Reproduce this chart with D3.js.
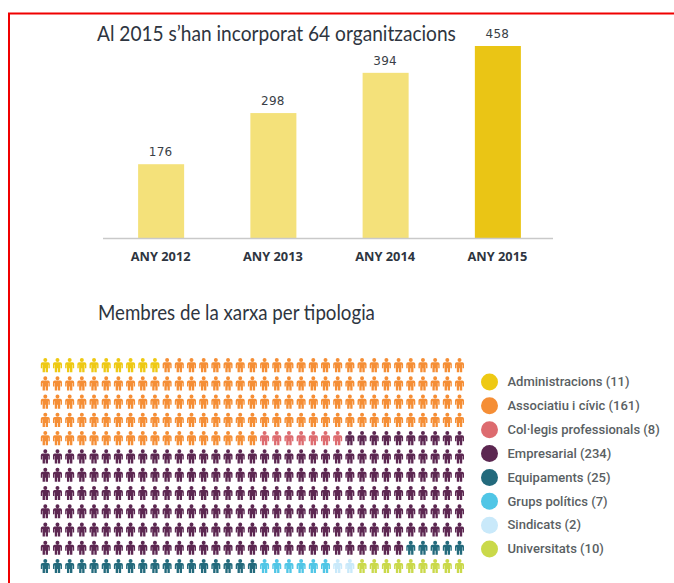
<!DOCTYPE html>
<html>
<head>
<meta charset="utf-8">
<script src="https://cdn.jsdelivr.net/npm/d3@7"></script>
<style>
body { margin: 0; background: #fff; }
svg { display: block; }
.title { font-family: Lato, sans-serif; font-size: 21px; fill: #2e3540; }
.value { font-family: "DejaVu Sans", sans-serif; font-size: 12px; fill: #3a3f47; text-anchor: middle; letter-spacing: 0.35px; }
.axis--x text { font-family: "Open Sans", sans-serif; font-size: 12.8px; font-weight: 700; fill: #2e3540; }
.legend text { font-family: Roboto, sans-serif; font-size: 13px; font-weight: 500; fill: #5a5f63; }
</style>
</head>
<body>
<svg></svg>
<script>
//data
const years = ["ANY 2012", "ANY 2013", "ANY 2014", "ANY 2015"];
const members = [176, 298, 394, 458];
const categories = ["Administracions", "Associatiu i cívic", "Col·legis professionals", "Empresarial", "Equipaments", "Grups polítics", "Sindicats", "Universitats"];
const totals = [11, 161, 8, 234, 25, 7, 2, 10];
// icons actually drawn per category (the grid shows 420 people, not 458)
const iconCounts = [10, 148, 7, 215, 23, 6, 2, 9];
const colors = ["#eec913", "#f58e35", "#dd6b6f", "#5c2751", "#236a7c", "#50c6e6", "#c9e9fa", "#cad94a"];

//constants
const width = 674;
const height = 583;
const columns = 35;
const rows = 12;

const svg = d3.select("svg")
    .attr("width", width)
    .attr("height", height);

//red frame
svg.append("path")
    .attr("d", "M9,583V13.5H674")
    .attr("fill", "none")
    .attr("stroke", "#f00000")
    .attr("stroke-width", 2);

//titles, squeezed horizontally to the width they have in the original
function addTitle(label, x, y, targetWidth) {
    const t = svg.append("text")
        .attr("class", "title")
        .text(label);
    const k = targetWidth / t.node().getComputedTextLength();
    t.attr("transform", "translate(" + x + "," + y + ") scale(" + k + ",1)");
}

addTitle("Al 2015 s’han incorporat 64 organitzacions", 97, 40.5, 359);
addTitle("Membres de la xarxa per tipologia", 98, 320, 277);

//bar chart scales
const xScale = d3.scaleBand()
    .domain(years)
    .range([105, 554])
    .paddingInner(0.59)
    .paddingOuter(0.295);

const yScale = d3.scaleLinear()
    .domain([0, 458])
    .range([238, 46]);

//bars
svg.append("g")
    .selectAll("rect")
    .data(members)
    .enter()
    .append("rect")
    .attr("x", (d, i) => xScale(years[i]))
    .attr("y", d => yScale(d))
    .attr("width", xScale.bandwidth())
    .attr("height", d => yScale(0) - yScale(d))
    .style("fill", (d, i) => i === members.length - 1 ? "#eac515" : "#f4e17a");

//bar labels
svg.append("g")
    .selectAll("text")
    .data(members)
    .enter()
    .append("text")
    .attr("class", "value")
    .attr("x", (d, i) => xScale(years[i]) + xScale.bandwidth() / 2 - 0.5)
    .attr("y", d => yScale(d) - 8.3)
    .text(d => d);

//axis
const gX = svg.append("g")
    .attr("class", "axis--x")
    .attr("transform", "translate(0," + yScale(0) + ")")
    .call(d3.axisBottom(xScale).tickSize(0).tickPadding(14));
gX.select(".domain").remove();
gX.selectAll("text").attr("dx", -0.5);

svg.append("line")
    .attr("x1", 103)
    .attr("x2", 553)
    .attr("y1", yScale(0) + 0.5)
    .attr("y2", yScale(0) + 0.5)
    .attr("stroke", "#c9c9c9")
    .attr("stroke-width", 1.6);

//people grid
const people = categories.flatMap((c, i) => d3.range(iconCounts[i]).map(() => i));

const colScale = d3.scalePoint()
    .domain(d3.range(columns))
    .range([45.3, 459.5]);

const rowScale = d3.scalePoint()
    .domain(d3.range(rows))
    .range([365.2, 566]);

const person = "M-2,-5.1a2,2 0 1,1 4,0a2,2 0 1,1 -4,0Z" +
    "M-2.8,-2.9H2.8Q4.5,-2.9 4.5,-1.3V3H3.1V-0.5H2.7V7H0.35V3H-0.35V7H-2.7V-0.5H-3.1V3H-4.5V-1.3Q-4.5,-2.9 -2.8,-2.9Z";

svg.append("g")
    .attr("class", "people")
    .selectAll("path")
    .data(people)
    .enter()
    .append("path")
    .attr("d", person)
    .attr("transform", (d, i) => "translate(" + colScale(i % columns) + "," + rowScale(Math.floor(i / columns)) + ")")
    .style("fill", d => colors[d]);

//legend
const legendY = d3.scalePoint()
    .domain(categories)
    .range([382, 549]);

const legend = svg.append("g")
    .attr("class", "legend")
    .selectAll("g")
    .data(categories)
    .enter()
    .append("g")
    .attr("transform", d => "translate(489.5," + legendY(d) + ")");

legend.append("circle")
    .attr("r", 8.5)
    .style("fill", (d, i) => colors[i]);

legend.append("text")
    .attr("x", 18)
    .attr("y", 4.3)
    .text((d, i) => d + " (" + totals[i] + ")");
</script>
</body>
</html>
